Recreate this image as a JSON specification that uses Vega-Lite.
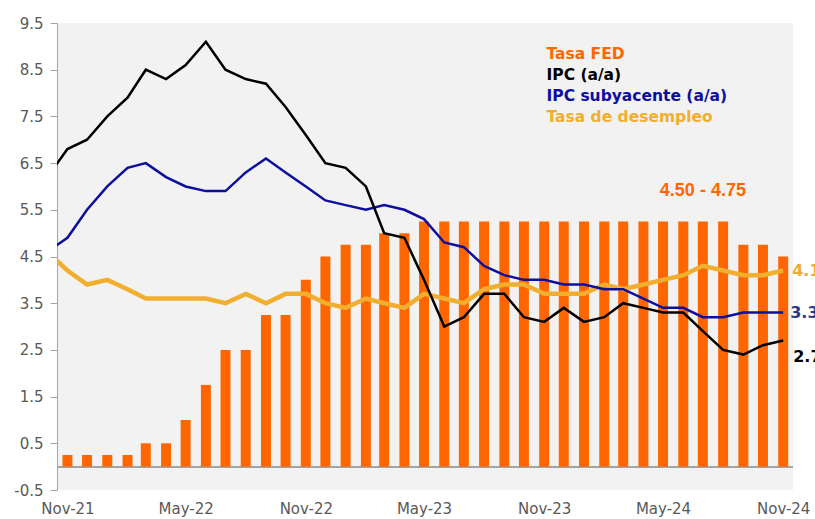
{
  "$schema": "https://vega.github.io/schema/vega-lite/v6.json",
  "width": 736,
  "height": 467,
  "autosize": {"type": "none"},
  "padding": {"left": 57, "top": 23, "right": 22, "bottom": 29},
  "background": "#FFFFFF",
  "config": {
    "view": {"fill": "#F2F2F2", "stroke": null},
    "font": "DejaVu Sans",
    "text": {"font": "DejaVu Sans"}
  },
  "datasets": {
    "main": [
      {"date": "2021-10-01", "fed": null, "ipc": 6.2, "core": 4.6, "unemp": 4.6},
      {"date": "2021-11-01", "fed": 0.25, "ipc": 6.8, "core": 4.9, "unemp": 4.2},
      {"date": "2021-12-01", "fed": 0.25, "ipc": 7.0, "core": 5.5, "unemp": 3.9},
      {"date": "2022-01-01", "fed": 0.25, "ipc": 7.5, "core": 6.0, "unemp": 4.0},
      {"date": "2022-02-01", "fed": 0.25, "ipc": 7.9, "core": 6.4, "unemp": 3.8},
      {"date": "2022-03-01", "fed": 0.5, "ipc": 8.5, "core": 6.5, "unemp": 3.6},
      {"date": "2022-04-01", "fed": 0.5, "ipc": 8.3, "core": 6.2, "unemp": 3.6},
      {"date": "2022-05-01", "fed": 1.0, "ipc": 8.6, "core": 6.0, "unemp": 3.6},
      {"date": "2022-06-01", "fed": 1.75, "ipc": 9.1, "core": 5.9, "unemp": 3.6},
      {"date": "2022-07-01", "fed": 2.5, "ipc": 8.5, "core": 5.9, "unemp": 3.5},
      {"date": "2022-08-01", "fed": 2.5, "ipc": 8.3, "core": 6.3, "unemp": 3.7},
      {"date": "2022-09-01", "fed": 3.25, "ipc": 8.2, "core": 6.6, "unemp": 3.5},
      {"date": "2022-10-01", "fed": 3.25, "ipc": 7.7, "core": 6.3, "unemp": 3.7},
      {"date": "2022-11-01", "fed": 4.0, "ipc": 7.1, "core": 6.0, "unemp": 3.7},
      {"date": "2022-12-01", "fed": 4.5, "ipc": 6.5, "core": 5.7, "unemp": 3.5},
      {"date": "2023-01-01", "fed": 4.75, "ipc": 6.4, "core": 5.6, "unemp": 3.4},
      {"date": "2023-02-01", "fed": 4.75, "ipc": 6.0, "core": 5.5, "unemp": 3.6},
      {"date": "2023-03-01", "fed": 5.0, "ipc": 5.0, "core": 5.6, "unemp": 3.5},
      {"date": "2023-04-01", "fed": 5.0, "ipc": 4.9, "core": 5.5, "unemp": 3.4},
      {"date": "2023-05-01", "fed": 5.25, "ipc": 4.0, "core": 5.3, "unemp": 3.7},
      {"date": "2023-06-01", "fed": 5.25, "ipc": 3.0, "core": 4.8, "unemp": 3.6},
      {"date": "2023-07-01", "fed": 5.25, "ipc": 3.2, "core": 4.7, "unemp": 3.5},
      {"date": "2023-08-01", "fed": 5.25, "ipc": 3.7, "core": 4.3, "unemp": 3.8},
      {"date": "2023-09-01", "fed": 5.25, "ipc": 3.7, "core": 4.1, "unemp": 3.9},
      {"date": "2023-10-01", "fed": 5.25, "ipc": 3.2, "core": 4.0, "unemp": 3.9},
      {"date": "2023-11-01", "fed": 5.25, "ipc": 3.1, "core": 4.0, "unemp": 3.7},
      {"date": "2023-12-01", "fed": 5.25, "ipc": 3.4, "core": 3.9, "unemp": 3.7},
      {"date": "2024-01-01", "fed": 5.25, "ipc": 3.1, "core": 3.9, "unemp": 3.7},
      {"date": "2024-02-01", "fed": 5.25, "ipc": 3.2, "core": 3.8, "unemp": 3.9},
      {"date": "2024-03-01", "fed": 5.25, "ipc": 3.5, "core": 3.8, "unemp": 3.8},
      {"date": "2024-04-01", "fed": 5.25, "ipc": 3.4, "core": 3.6, "unemp": 3.9},
      {"date": "2024-05-01", "fed": 5.25, "ipc": 3.3, "core": 3.4, "unemp": 4.0},
      {"date": "2024-06-01", "fed": 5.25, "ipc": 3.3, "core": 3.4, "unemp": 4.1},
      {"date": "2024-07-01", "fed": 5.25, "ipc": 2.9, "core": 3.2, "unemp": 4.3},
      {"date": "2024-08-01", "fed": 5.25, "ipc": 2.5, "core": 3.2, "unemp": 4.2},
      {"date": "2024-09-01", "fed": 4.75, "ipc": 2.4, "core": 3.3, "unemp": 4.1},
      {"date": "2024-10-01", "fed": 4.75, "ipc": 2.6, "core": 3.3, "unemp": 4.1},
      {"date": "2024-11-01", "fed": 4.5, "ipc": 2.7, "core": 3.3, "unemp": 4.2}
    ]
  },
  "data": {"name": "main"},
  "encoding": {
    "x": {
      "field": "date",
      "type": "temporal",
      "scale": {
        "type": "utc",
        "padding": 0,
        "domain": [
          {"year": 2021, "month": 10, "date": 16, "utc": true},
          {"year": 2024, "month": 11, "date": 16, "utc": true}
        ]
      },
      "axis": {
        "title": null,
        "grid": false,
        "domain": false,
        "ticks": false,
        "format": "%b-%y",
        "labelFont": "DejaVu Sans",
        "labelFontSize": 15,
        "labelColor": "#595959",
        "labelPadding": 11,
        "values": [
          {"year": 2021, "month": 11, "date": 1, "utc": true},
          {"year": 2022, "month": 5, "date": 1, "utc": true},
          {"year": 2022, "month": 11, "date": 1, "utc": true},
          {"year": 2023, "month": 5, "date": 1, "utc": true},
          {"year": 2023, "month": 11, "date": 1, "utc": true},
          {"year": 2024, "month": 5, "date": 1, "utc": true},
          {"year": 2024, "month": 11, "date": 1, "utc": true}
        ]
      }
    }
  },
  "layer": [
    {
      "mark": {"type": "rule", "color": "#A6A6A6", "strokeWidth": 1},
      "encoding": {"y": {"datum": 0, "type": "quantitative"}, "x": null}
    },
    {
      "mark": {"type": "bar", "width": 10},
      "encoding": {
        "y": {
          "field": "fed",
          "type": "quantitative",
          "scale": {"domain": [-0.5, 9.5], "nice": false, "zero": false},
          "axis": {
            "title": null,
            "grid": false,
            "values": [-0.5, 0.5, 1.5, 2.5, 3.5, 4.5, 5.5, 6.5, 7.5, 8.5, 9.5],
            "format": ".1f",
            "labelExpr": "replace(datum.label, '\u2212', '-')",
            "labelFont": "DejaVu Sans",
            "labelFontSize": 15,
            "labelColor": "#595959",
            "domainColor": "#A6A6A6",
            "tickColor": "#A6A6A6",
            "tickSize": 7,
            "labelPadding": 7
          }
        },
        "color": {
          "datum": "Tasa FED",
          "scale": {
            "domain": ["Tasa FED", "IPC (a/a)", "IPC subyacente (a/a)", "Tasa de desempleo"],
            "range": ["#FF6600", "#000000", "#0D0D9E", "#F2AE2E"]
          },
          "legend": {
            "title": null,
            "orient": "none",
            "legendX": 474,
            "legendY": 23,
            "padding": 0,
            "symbolSize": 0,
            "symbolStrokeWidth": 0,
            "symbolOpacity": 0,
            "labelOffset": 0,
            "labelFont": "DejaVu Sans",
            "labelFontSize": 15.5,
            "labelFontWeight": "bold",
            "labelLimit": 400,
            "rowPadding": 4,
            "encode": {
              "labels": {"update": {"fill": {"scale": "color", "field": "value"}}}
            }
          }
        }
      }
    },
    {
      "mark": {"type": "line", "strokeWidth": 4.5, "clip": true},
      "encoding": {
        "y": {"field": "unemp", "type": "quantitative"},
        "color": {"datum": "Tasa de desempleo"}
      }
    },
    {
      "mark": {"type": "line", "strokeWidth": 2.5, "clip": true},
      "encoding": {
        "y": {"field": "core", "type": "quantitative"},
        "color": {"datum": "IPC subyacente (a/a)"}
      }
    },
    {
      "mark": {"type": "line", "strokeWidth": 2.5, "clip": true},
      "encoding": {
        "y": {"field": "ipc", "type": "quantitative"},
        "color": {"datum": "IPC (a/a)"}
      }
    },
    {
      "data": {"values": [{"date": "2024-11-01", "v": 4.2, "label": "4.1"}]},
      "mark": {"type": "text", "align": "left", "baseline": "middle", "dx": 9, "fontSize": 16, "fontWeight": "bold", "font": "DejaVu Sans", "color": "#F0AD30"},
      "encoding": {"y": {"field": "v", "type": "quantitative"}, "text": {"field": "label"}}
    },
    {
      "data": {"values": [{"date": "2024-11-01", "v": 3.3, "label": "3.3"}]},
      "mark": {"type": "text", "align": "left", "baseline": "middle", "dx": 7, "fontSize": 16, "fontWeight": "bold", "font": "DejaVu Sans", "color": "#2A3990"},
      "encoding": {"y": {"field": "v", "type": "quantitative"}, "text": {"field": "label"}}
    },
    {
      "data": {"values": [{"date": "2024-11-01", "v": 2.7, "label": "2.7"}]},
      "mark": {"type": "text", "align": "left", "baseline": "middle", "dx": 10, "dy": 16, "fontSize": 16, "fontWeight": "bold", "font": "DejaVu Sans", "color": "#000000"},
      "encoding": {"y": {"field": "v", "type": "quantitative"}, "text": {"field": "label"}}
    },
    {
      "data": {"values": [{"date": "2024-07-01", "v": 5.9, "label": "4.50 - 4.75"}]},
      "mark": {"type": "text", "align": "center", "baseline": "middle", "fontSize": 18, "fontWeight": "bold", "font": "Liberation Sans", "color": "#FF6600"},
      "encoding": {"y": {"field": "v", "type": "quantitative"}, "text": {"field": "label"}}
    }
  ]
}
